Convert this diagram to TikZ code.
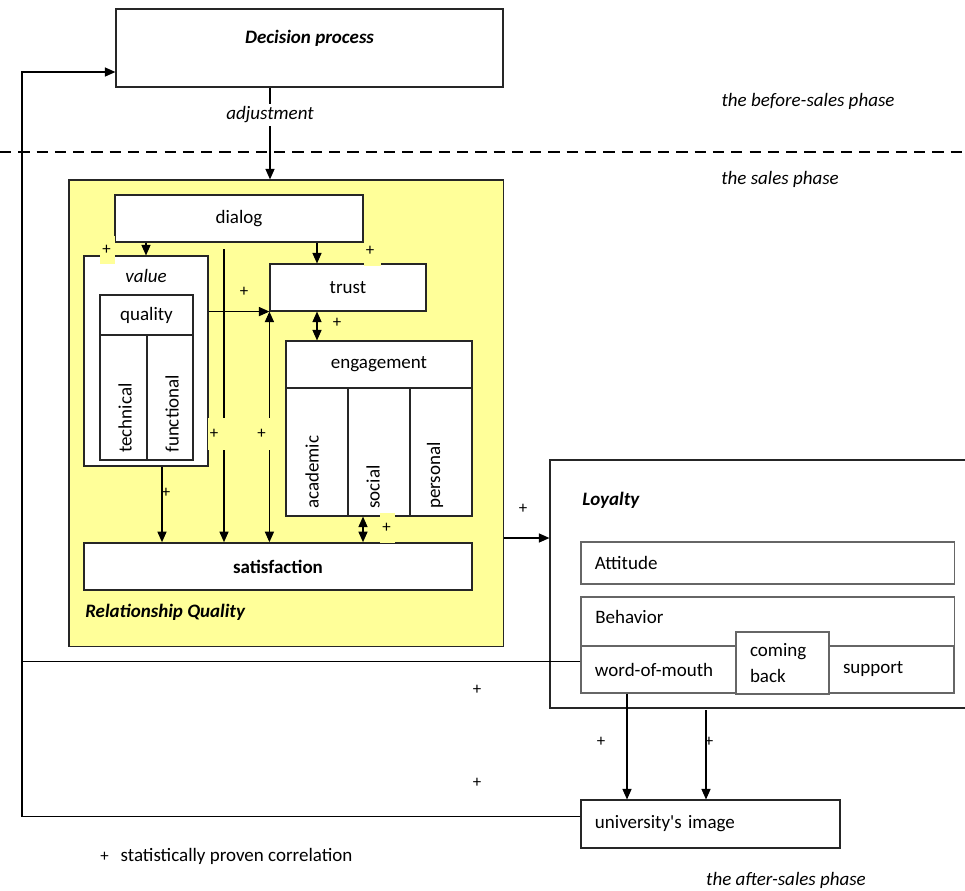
\documentclass[tikz,border=0pt]{standalone}
\usepackage{fontspec}
\setmainfont{Carlito}[Ligatures=TeXOff]
\usepackage{tikz}
\usetikzlibrary{arrows.meta,positioning}
\definecolor{RQYellow}{RGB}{255,255,153}
\newcommand{\boxfont}{\fontsize{13.5}{18.5}\selectfont}
\newcommand{\plusfont}{\fontsize{12}{12}\selectfont}

\begin{document}
\begin{tikzpicture}[x=0.025cm, y=-0.025cm,
    box/.style={draw=black!85, line width=0.8pt, fill=white, inner sep=0pt, font=\boxfont},
    lbox/.style={box, align=left, inner xsep=0.35cm},
    txt/.style={inner sep=0pt, font=\boxfont},
    vtxt/.style={txt, rotate=90, anchor=west},
    pl/.style={inner sep=0pt, font=\plusfont},
    patch/.style={pl, fill=RQYellow, anchor=west, align=left, inner xsep=0.05cm},
    arr/.style={-{Triangle[length=7.5pt,width=6.5pt]}, line width=0.8pt},
    darr/.style={{Triangle[length=7.5pt,width=6.5pt]}-{Triangle[length=7.5pt,width=6.5pt]}, line width=0.8pt}
]
    \useasboundingbox (0,0) rectangle (965,890);

    \node[box, minimum width=9.675cm, minimum height=1.95cm] (dec) at (309.5,48) {};
    \node[txt, font=\boxfont\bfseries\itshape] (dectxt) at (309.5,38) {Decision process};
    \node[txt, inner sep=2pt, font=\boxfont\itshape] (adj) at (270,115) {adjustment};
    \draw[line width=0.8pt, dash pattern=on 8pt off 5pt] (0,152) -- (965,152);
    \node[txt, font=\boxfont\itshape] (ph1) at (808,101) {the before-sales phase};
    \node[txt, font=\boxfont\itshape] (ph2) at (780,179) {the sales phase};
    \node[txt, font=\boxfont\itshape] (ph3) at (786,880) {the after-sales phase};

    \node[box, fill=RQYellow, minimum width=10.85cm, minimum height=11.65cm] (rq) at (286,413) {};
    \node[txt, font=\boxfont\bfseries\itshape, anchor=west] (rqtxt) at (85,612) {Relationship Quality};
    \node[box, minimum width=6.2cm, minimum height=1.175cm] (dlg) at (239,218.5) {dialog};
    \node[box, minimum width=3.1cm, minimum height=5.25cm] (val) at (146,361) {};
    \node[txt, font=\boxfont\itshape] (valtxt) at (146,276) {value};
    \node[box, minimum width=2.325cm, minimum height=1cm] (qual) at (146.5,315) {quality};
    \node[box, minimum width=1.175cm, minimum height=3.125cm] (tech) at (123.5,397.5) {};
    \node[box, minimum width=1.15cm, minimum height=3.125cm] (func) at (170,397.5) {};
    \node[vtxt] (techtxt) at (125,453) {technical};
    \node[vtxt] (functxt) at (172,453) {functional};
    \node[box, minimum width=3.9cm, minimum height=1.175cm] (trust) at (348,287.5) {trust};
    \node[box, minimum width=4.65cm, minimum height=1.175cm] (eng) at (379,364.5) {engagement};
    \node[box, minimum width=1.55cm, minimum height=3.2cm] (acad) at (317,452) {};
    \node[box, minimum width=1.55cm, minimum height=3.2cm] (soc) at (379,452) {};
    \node[box, minimum width=1.55cm, minimum height=3.2cm] (pers) at (441,452) {};
    \node[vtxt] (acadtxt) at (312,509) {academic};
    \node[vtxt] (soctxt) at (373,509) {social};
    \node[vtxt] (perstxt) at (435,509) {personal};
    \node[box, line width=1.2pt, minimum width=9.7cm, minimum height=1.175cm, font=\boxfont\bfseries] (sat) at (278,566.5) {satisfaction};

    \node[box, minimum width=10.425cm, minimum height=6.2cm] (loy) at (758.5,584) {};
    \node[txt, font=\boxfont\bfseries\itshape, anchor=west] (loytxt) at (582,500) {Loyalty};
    \node[lbox, draw=black!60, text width=8.625cm, minimum height=1.05cm] (att) at (767.5,563) {Attitude};
    \node[box, draw=black!60, minimum width=9.325cm, minimum height=2.4cm] (beh) at (767.5,645) {};
    \node[txt, anchor=west] (behtxt) at (595,617) {Behavior};
    \node[lbox, draw=black!60, text width=3.175cm, minimum height=1.175cm] (wom) at (658.5,669.5) {word-of-mouth};
    \node[lbox, draw=black!60, text width=2.425cm, minimum height=1.175cm] (sup) at (891.5,669.5) {support};
    \node[lbox, draw=black!60, text width=1.625cm, minimum height=1.55cm] (cb) at (782.5,663) {coming\\back};
    \node[lbox, text width=5.775cm, minimum height=1.2cm] (img) at (710.5,824) {university's image};
    \node[txt, anchor=west] (leg) at (100,856) {{\plusfont +}\hspace{0.3cm}statistically proven correlation};

    \coordinate (lx) at (22,72);
    \draw[arr] ([yshift=0.21cm]wom.west) -| (lx) -- (lx -| dec.west);
    \draw[line width=0.8pt] ([yshift=0.18cm]img.west) -| (lx);
    \draw[line width=0.8pt] (adj.north |- dec.south) -- (adj.north);
    \draw[arr] (adj.south) -- (adj.south |- rq.north);
    \draw[arr] (val.north |- dlg.south) -- (val.north);
    \coordinate (tx) at (317,0);
    \draw[arr] (tx |- dlg.south) -- (tx |- trust.north);
    \draw[darr] (tx |- trust.south) -- (tx |- eng.north);
    \coordinate (dx) at (224,249);
    \draw[arr] (dx) -- (dx |- sat.north);
    \draw[arr] (val.east |- trust.south west) -- (trust.south west);
    \draw[darr] (trust.south west) -- (trust.south west |- sat.north);
    \draw[arr] ([xshift=0.4cm]val.south) -- ([xshift=0.4cm]val.south |- sat.north);
    \coordinate (ex) at (363,0);
    \draw[darr] (ex |- soc.south) -- (ex |- sat.north);
    \coordinate (ly) at (0,538);
    \draw[arr] (rq.east |- ly) -- (loy.west |- ly);
    \coordinate (wx) at (627,0);
    \draw[arr] (wx |- wom.south) -- (wx |- img.north);
    \coordinate (bx) at (706,710);
    \draw[arr] (bx) -- (bx |- img.north);

    \node[patch, text width=0.275cm, minimum height=0.7cm] (pa) at (100,250) {+};
    \node[patch, text width=0.325cm, minimum height=0.75cm] (pb) at (363.5,251) {+};
    \node[pl] (pc) at (244,292) {+};
    \node[pl] (pd) at (337,323) {+};
    \node[patch, text width=0.45cm, minimum height=0.8cm] (pe) at (207.5,434) {+};
    \node[patch, text width=0.45cm, minimum height=0.8cm] (pf) at (255,434) {+};
    \node[pl] (pg) at (166,493) {+};
    \node[patch, text width=0.275cm, minimum height=0.75cm] (ph) at (380,528) {+};
    \node[pl] (pi) at (523,509) {+};
    \node[pl] (pj) at (477,690) {+};
    \node[pl] (pk) at (601,742) {+};
    \node[pl] (pm) at (709,742) {+};
    \node[pl] (pn) at (477,783) {+};
\end{tikzpicture}
\end{document}
